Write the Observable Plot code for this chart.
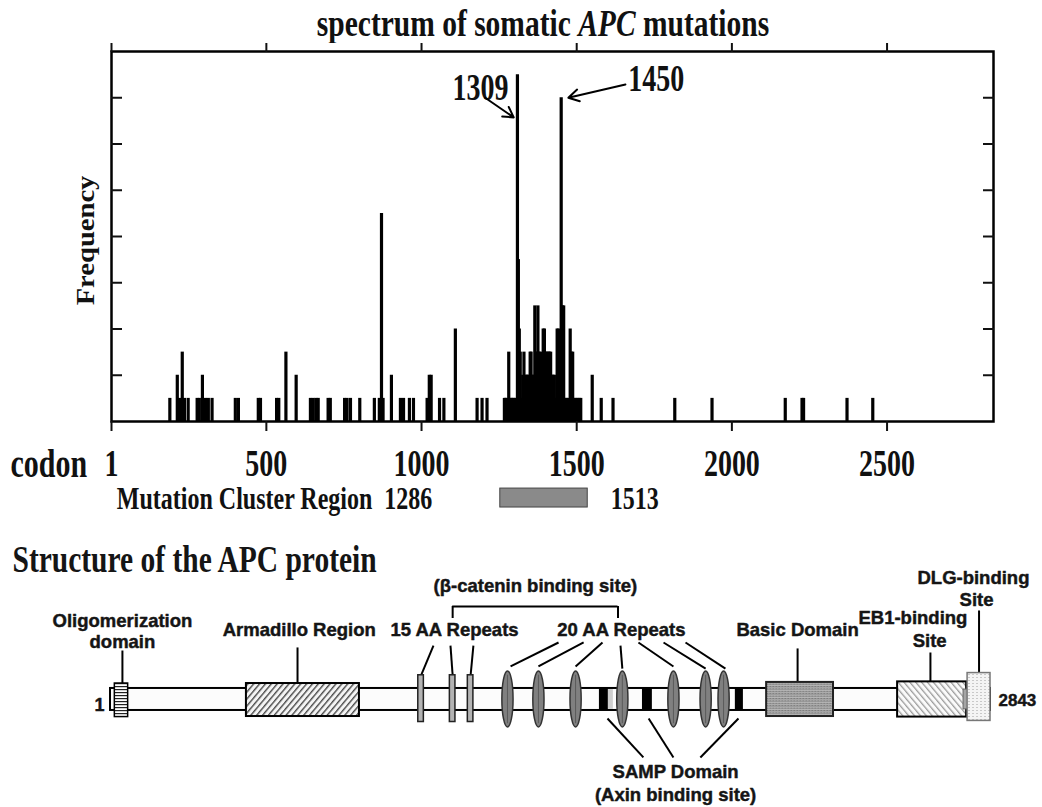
<!DOCTYPE html>
<html><head><meta charset="utf-8">
<script src="https://cdn.jsdelivr.net/npm/d3@7"></script>
<script src="https://cdn.jsdelivr.net/npm/@observablehq/plot@0.6"></script>
<style>
html,body{margin:0;padding:0;background:#fff;overflow:hidden}
#wrap{position:relative;width:1042px;height:807px;}
#wrap svg{position:absolute;left:0;}
#title{position:absolute;z-index:3;top:7px;left:44px;width:998px;height:32px;line-height:32px;text-align:center;
  font:bold 29.5px 'Liberation Serif',serif;color:#111;transform:scaleY(1.25);transform-origin:center;white-space:nowrap}
</style></head>
<body><div id="wrap"><div id="title">spectrum of somatic <i>APC</i> mutations</div></div>
<script>
// ---------------- data ----------------
const codons = [189,213,220,229,236,248,277,284,294,304,313,325,400,410,474,481,533,540,563,596,
  642,651,660,667,699,706,752,760,771,801,848,864,871,876,903,932,942,961,974,1018,1025,1031,1058,1072,
  1109,1179,1195,1211,
  1267,1271,1275,1281,1285,1290,1294,1298,1303,1309,1312,1315,1318,1322,1326,1330,1334,1338,1342,1346,
  1350,1353,1357,1361,1365,1369,1372,1375,1379,1383,1387,1392,1396,1400,1404,1408,1412,1416,1420,1424,
  1428,1432,1437,1441,1446,1450,1454,1458,1463,1468,1474,1479,1483,1487,1492,1497,1503,1508,1513,
  1550,1579,1617,1816,1936,2172,2226,2231,2371,2454];
const counts = [1,2,1,3,1,1,1,1,2,1,1,1,1,1,1,1,1,1,3,2,
  1,1,1,1,1,1,1,1,1,1,1,1,9,1,2,1,1,1,1,1,2,2,1,1,
  4,1,1,1,
  1,1,1,3,1,1,1,1,1,15,7,4,3,1,2,3,2,2,2,2,
  3,3,2,2,5,3,3,5,3,3,2,4,4,3,3,3,3,3,2,2,
  2,1,4,4,1,14,5,5,1,1,1,4,3,3,1,1,1,1,1,
  2,1,1,1,1,1,1,1,1,1];
const codonTicks = [1, 500, 1000, 1500, 2000, 2500];
const freqTicks = [2, 4, 6, 8, 10, 12, 14];
const hotspots = [1309, 1450];
const clusterRegion = [1286, 1513];
const proteinLength = 2843;
const oligomerization = [15, 58];
const armadillo = [440, 805];
const repeats15 = [1004, 1106, 1164];
const repeats20 = [1283, 1383, 1503, 1654, 1819, 1923, 1981];
const sampDomains = [[1580, 1609], [1719, 1751], [2019, 2045]];
const basicDomain = [2120, 2336];
const eb1Site = [2543, 2766];
const dlgSite = [2769, 2843];

// ---------------- top chart ----------------
const mutations = codons.map((c, i) => ({codon: c, count: counts[i]}));
const hot = mutations.filter(d => hotspots.includes(d.codon));

const topSvg = Plot.plot({
  width: 1042, height: 530,
  marginTop: 51, marginBottom: 109, marginLeft: 111, marginRight: 49,
  x: {domain: [1, proteinLength]},
  y: {domain: [0, 16]},
  style: {fontFamily: "'Liberation Serif', 'Times New Roman', serif", fontWeight: "bold", background: "transparent", color: "#111", overflow: "visible"},
  marks: [
    Plot.ruleX(mutations, {x: "codon", y1: 0, y2: "count", stroke: "#000", strokeWidth: 3.2}),
    Plot.frame({stroke: "#000", strokeWidth: 2.5}),
    Plot.axisX(codonTicks, {anchor: "bottom", tickSize: 10, tickPadding: 21, strokeWidth: 2, fontSize: 28, label: null, tickFormat: d => String(d)}),
    Plot.axisX(codonTicks, {anchor: "top", tickSize: 9, strokeWidth: 2, label: null, tickFormat: () => ""}),
    Plot.axisY(freqTicks, {anchor: "left", tickSize: 11, dx: 11, strokeWidth: 2, label: null, tickFormat: () => ""}),
    Plot.axisY(freqTicks, {anchor: "right", tickSize: 11, dx: -11, strokeWidth: 2, label: null, tickFormat: () => ""}),
    // hotspot callouts
    Plot.text(hot.filter(d => d.codon === 1309), {x: "codon", y: "count", text: d => String(d.codon), dx: -37, dy: 13, fontSize: 28}),
    Plot.text(hot.filter(d => d.codon === 1450), {x: "codon", y: "count", text: d => String(d.codon), dx: 95, dy: -19, fontSize: 28}),
    Plot.arrow([1309], {x1: 1205, y1: 14.0, x2: 1297, y2: 13.15, stroke: "#000", strokeWidth: 2, headLength: 9}),
    Plot.arrow([1450], {x1: 1657, y1: 14.57, x2: 1473, y2: 14.0, stroke: "#000", strokeWidth: 2, headLength: 9}),
    // axis titles
    Plot.text(["Frequency"], {frameAnchor: "left", dx: -26, dy: 4, rotate: -90, textAnchor: "middle", lineAnchor: "middle", fontSize: 26}),
    Plot.text(["codon"], {frameAnchor: "bottom-left", dx: -101, dy: 42, textAnchor: "start", lineAnchor: "middle", fontSize: 30}),
    // mutation cluster region legend
    Plot.rect([clusterRegion], {x1: d => d[0], x2: d => d[1], y1: -3.72, y2: -2.9, insetLeft: -10, insetRight: -7, fill: "#8a8a8a", stroke: "#444", strokeWidth: 1}),
    Plot.text([clusterRegion], {x: d => d[0], y: -3.33, text: d => `Mutation Cluster Region\u00a0\u00a0${d[0]}`, textAnchor: "end", dx: -78, fontSize: 24}),
    Plot.text([clusterRegion], {x: d => d[1], y: -3.33, text: d => String(d[1]), textAnchor: "start", dx: 30, fontSize: 24})
  ]
});

// ---------------- protein structure ----------------
const ellipse = {
  draw(context, size) {
    const ry = Math.sqrt(size / Math.PI), rx = ry * 0.2, k = 0.5523;
    context.moveTo(0, -ry);
    context.bezierCurveTo(rx * k, -ry, rx, -ry * k, rx, 0);
    context.bezierCurveTo(rx, ry * k, rx * k, ry, 0, ry);
    context.bezierCurveTo(-rx * k, ry, -rx, ry * k, -rx, 0);
    context.bezierCurveTo(-rx, -ry * k, -rx * k, -ry, 0, -ry);
    context.closePath();
  }
};
const mid = r => (r[0] + r[1]) / 2;
const LBL = 6.27;      // label row (units of half bar height)
const SANS = {fontSize: 18.5, fill: "#151515", stroke: "#151515", strokeWidth: 0.45, paintOrder: "normal"};
const leaders = [
  [mid(oligomerization) + 3, 4.45, mid(oligomerization) + 3, 1.45],
  [605, 4.73, 605, 1.45],
  [1044, 4.9, repeats15[0], 2.2], [1099, 4.9, repeats15[1], 2.2], [1173, 4.9, repeats15[2], 2.2],
  [1448, 5.18, repeats20[0] + 10, 3.0], [1529, 5.18, repeats20[1], 3.0], [1590, 5.18, repeats20[2], 3.0],
  [1648, 4.9, repeats20[3], 2.8], [1706, 5.18, repeats20[4], 3.0], [1787, 5.18, repeats20[5], 2.8],
  [1858, 5.18, repeats20[6] + 6, 2.8],
  [1606, -1.73, 1722, -5.27], [1739, -1.73, 1819, -5.27], [2029, -1.73, 1906, -5.27],
  [2220, 4.64, 2220, 1.55], [2649, 4.27, 2649, 1.6], [2806, 8.09, 2806, 2.4]
];

const botSvg = Plot.plot({
  width: 1042, height: 277,
  marginTop: 0, marginBottom: 0, marginLeft: 110, marginRight: 52,
  x: {domain: [1, proteinLength], axis: null},
  y: {domain: [-9.82, 15.36], axis: null},
  style: {fontFamily: "'Liberation Sans', Arial, sans-serif", fontWeight: "bold", background: "transparent", color: "#151515", overflow: "visible"},
  marks: [
    Plot.text(["Structure of the APC protein"], {frameAnchor: "top-left", dx: -98, dy: 30, textAnchor: "start", lineAnchor: "middle", fontFamily: "'Liberation Serif', 'Times New Roman', serif", fontSize: 29.5}),
    Plot.link(leaders, {x1: d => d[0], y1: d => d[1], x2: d => d[2], y2: d => d[3], stroke: "#000", strokeWidth: 2}),
    Plot.ruleY([8.45], {x1: repeats15[1], x2: 1640, stroke: "#000", strokeWidth: 2}),
    Plot.ruleX([repeats15[1], 1640], {y1: 7.36, y2: 8.45, stroke: "#000", strokeWidth: 2}),
    // backbone
    Plot.rect([proteinLength], {x1: 1, x2: d => d, y1: -1, y2: 1, fill: "#fcfcfc", stroke: "#000", strokeWidth: 2}),
    Plot.rect([oligomerization], {x1: d => d[0], x2: d => d[1], y1: -1.6, y2: 1.45, fill: "url(#pOligo)", stroke: "#000", strokeWidth: 1.5}),
    Plot.rect([armadillo], {x1: d => d[0], x2: d => d[1], y1: -1.55, y2: 1.45, fill: "url(#pArm)", stroke: "#000", strokeWidth: 2}),
    Plot.rect(sampDomains, {x1: d => d[0], x2: d => d[1], y1: -1, y2: 1, fill: "#000"}),
    Plot.rect([sampDomains[0]], {x1: d => d[1], x2: d => d[1] + 16, y1: -0.9, y2: 0.9, fill: "#cfcfcf"}),
    Plot.rect(repeats15, {x1: d => d - 9, x2: d => d + 9, y1: -2.05, y2: 2.2, fill: "#b3b3b3", stroke: "#222", strokeWidth: 1.5}),
    Plot.dot(repeats20, {x: d => d, y: 0.05, r: 28, symbol: ellipse, fill: "#808080", stroke: "#333", strokeWidth: 1.5}),
    Plot.ruleX(repeats20, {y1: -2.2, y2: 2.2, stroke: "#5a5a5a", strokeWidth: 1}),
    Plot.rect([basicDomain], {x1: d => d[0], x2: d => d[1], y1: -1.55, y2: 1.55, fill: "url(#pBasic)", stroke: "#222", strokeWidth: 2}),
    Plot.rect([eb1Site], {x1: d => d[0], x2: d => d[1], y1: -1.6, y2: 1.6, fill: "url(#pEB1)", stroke: "#000", strokeWidth: 2}),
    Plot.rect([dlgSite], {x1: d => d[0] - 13, x2: d => d[0] + 3, y1: -0.9, y2: 0.9, fill: "#a5a5a5", stroke: "#666", strokeWidth: 1}),
    Plot.rect([dlgSite], {x1: d => d[0], x2: d => d[1], y1: -1.95, y2: 2.4, fill: "url(#pDLG)", stroke: "#777", strokeWidth: 1.5}),
    // labels
    Plot.text([1], {x: d => d, y: -0.55, text: d => String(d), textAnchor: "end", dx: -6, ...SANS, fontSize: 18}),
    Plot.text([proteinLength], {x: d => d, y: -0.1, text: d => String(d), textAnchor: "start", dx: 8, ...SANS, fontSize: 17}),
    Plot.text([oligomerization], {x: d => mid(d) + 3, y: 7.09, text: () => "Oligomerization", ...SANS}),
    Plot.text([oligomerization], {x: d => mid(d) + 3, y: 5.18, text: () => "domain", ...SANS}),
    Plot.text([armadillo], {x: d => mid(d) - 12, y: LBL, text: () => "Armadillo Region", ...SANS}),
    Plot.text([repeats15], {x: 1112, y: LBL, text: () => "15 AA Repeats", ...SANS}),
    Plot.text([repeats20], {x: 1651, y: LBL, text: () => "20 AA Repeats", ...SANS}),
    Plot.text(["(β-catenin binding site)"], {x: 1373, y: 10.27, ...SANS}),
    Plot.text([basicDomain], {x: d => mid(d) - 8, y: LBL, text: () => "Basic Domain", ...SANS}),
    Plot.text([eb1Site], {x: d => mid(d) - 62, y: 7.36, text: () => "EB1-binding", ...SANS}),
    Plot.text([eb1Site], {x: d => mid(d) - 8, y: 5.27, text: () => "Site", ...SANS}),
    Plot.text([dlgSite], {x: d => mid(d) - 18, y: 11.0, text: () => "DLG-binding", ...SANS}),
    Plot.text([dlgSite], {x: d => mid(d) - 8, y: 9.0, text: () => "Site", ...SANS}),
    Plot.text(sampDomains.slice(0, 1), {x: 1826, y: -6.64, text: () => "SAMP Domain", ...SANS}),
    Plot.text(sampDomains.slice(0, 1), {x: 1826, y: -8.73, text: () => "(Axin binding site)", ...SANS})
  ]
});

botSvg.insertAdjacentHTML("afterbegin", `<defs>
<pattern id="pOligo" patternUnits="userSpaceOnUse" width="6" height="3"><rect width="6" height="3" fill="#fff"/><rect width="6" height="1.2" fill="#222"/></pattern>
<pattern id="pArm" patternUnits="userSpaceOnUse" width="4.5" height="4.5" patternTransform="rotate(40)"><rect width="4.5" height="4.5" fill="#f4f4f4"/><rect width="1.4" height="4.5" fill="#4a4a4a"/></pattern>
<pattern id="pBasic" patternUnits="userSpaceOnUse" width="3" height="2.4"><rect width="3" height="2.4" fill="#b8b8b8"/><rect width="3" height="1.2" fill="#7a7a7a"/><rect width="1.5" height="1.2" fill="#999"/></pattern>
<pattern id="pEB1" patternUnits="userSpaceOnUse" width="4.5" height="4.5" patternTransform="rotate(-40)"><rect width="4.5" height="4.5" fill="#fafafa"/><rect width="1.3" height="4.5" fill="#9c9c9c"/></pattern>
<pattern id="pDLG" patternUnits="userSpaceOnUse" width="4" height="3"><rect width="4" height="3" fill="#f4f4f4"/><rect width="2" height="1" fill="#c9c9c9"/></pattern>
</defs>`);

const wrap = document.getElementById("wrap");
topSvg.style.top = "0px";
botSvg.style.top = "530px";
wrap.insertBefore(botSvg, wrap.firstChild);
wrap.insertBefore(topSvg, wrap.firstChild);

// vertical stretch of the condensed serif lettering
function stretchTexts(nodes, s) {
  nodes.forEach(t => {
    if (!t.textContent) return;
    const b = t.getBBox();
    const cx = b.x + b.width / 2, cy = b.y + b.height / 2;
    const tr = t.getAttribute("transform") || "";
    const sc = /rotate/.test(tr) ? `scale(1.1,1)` : `scale(1,${s})`;
    t.setAttribute("transform", `${tr} translate(${cx},${cy}) ${sc} translate(${-cx},${-cy})`);
  });
}
stretchTexts(topSvg.querySelectorAll("text"), 1.35);
stretchTexts(botSvg.querySelectorAll('g[font-family*="Serif"] text'), 1.25);
</script>
</body></html>
